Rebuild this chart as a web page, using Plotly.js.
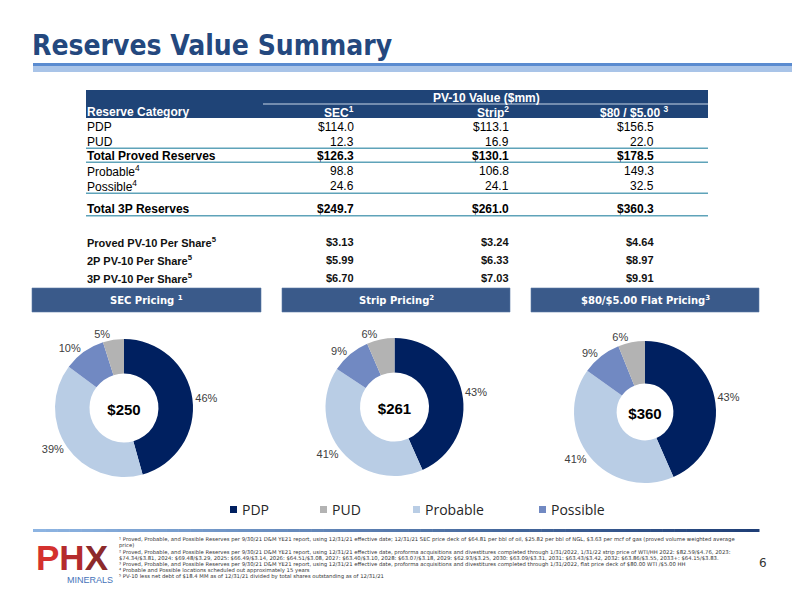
<!DOCTYPE html>
<html><head><meta charset="utf-8">
<script src="https://cdn.plot.ly/plotly-3.0.1.min.js"></script>
<style>html,body{margin:0;padding:0;background:#fff}#chart{width:792px;height:594px}</style>
</head><body><div id="chart"></div>
<script>
// ---------------- DATA ----------------
const categories = ['PDP', 'PUD', 'Probable', 'Possible'];
const secValues = [114.0, 12.3, 98.8, 24.6];
const stripValues = [113.1, 16.9, 106.8, 24.1];
const flatValues = [156.5, 22.0, 149.3, 32.5];
const secPctLabels = ['46%', '5%', '39%', '10%'];
const stripPctLabels = ['43%', '6%', '41%', '9%'];
const flatPctLabels = ['43%', '6%', '41%', '9%'];
const pieTotals = [249.7, 261.0, 360.3];
const pricingTitles = ['SEC Pricing <sup>1</sup>', 'Strip Pricing<sup>2</sup>', '$80/$5.00 Flat Pricing<sup>3</sup>'];

const tableGroupHeader = 'PV-10 Value ($mm)';
const tableFirstHeader = 'Reserve Category';
const columnHeaders = ['SEC<sup>1</sup>', 'Strip<sup>2</sup>', '$80 / $5.00 <sup>3</sup>'];
const tableRowLabels = ['PDP', 'PUD', 'Total Proved Reserves', 'Probable<sup>4</sup>', 'Possible<sup>4</sup>', 'Total 3P Reserves'];
const secColumn = [114.0, 12.3, 126.3, 98.8, 24.6, 249.7];
const stripColumn = [113.1, 16.9, 130.1, 106.8, 24.1, 261.0];
const flatColumn = [156.5, 22.0, 178.5, 149.3, 32.5, 360.3];
const rowIsTotal = [false, false, true, false, false, true];
const rowHasDollar = [true, false, true, false, false, true];

const perShareLabels = ['Proved PV-10 Per Share<sup>5</sup>', '2P PV-10 Per Share<sup>5</sup>', '3P PV-10 Per Share<sup>5</sup>'];
const secPerShare = [3.13, 5.99, 6.70];
const stripPerShare = [3.24, 6.33, 7.03];
const flatPerShare = [4.64, 8.97, 9.91];

const footnotes = [
  '¹ Proved, Probable, and Possible Reserves per 9/30/21 D&amp;M YE21 report, using 12/31/21 effective date; 12/31/21 SEC price deck of $64.81 per bbl of oil, $25.82 per bbl of NGL, $3.63 per mcf of gas (proved volume weighted average',
  'price)',
  '² Proved, Probable, and Possible Reserves per 9/30/21 D&amp;M YE21 report, using 12/31/21 effective date, proforma acquisitions and divestitures completed through 1/31/2022, 1/31/22 strip price of WTI/HH 2022: $82.59/$4.76, 2023:',
  '$74.34/$3.81, 2024: $69.48/$3.29, 2025: $66.49/$3.14, 2026: $64.51/$3.08, 2027: $63.40/$3.10, 2028: $63.07/$3.18, 2029: $62.93/$3.25, 2030: $63.09/$3.31, 2031: $63.43/$3.42, 2032: $63.86/$3.55, 2033+: $64.15/$3.83.',
  '³ Proved, Probable, and Possible Reserves per 9/30/21 D&amp;M YE21 report, using 12/31/21 effective date, proforma acquisitions and divestitures completed through 1/31/2022, flat price deck of $80.00 WTI /$5.00 HH',
  '⁴ Probable and Possible locations scheduled out approximately 15 years',
  '⁵ PV-10 less net debt of $18.4 MM as of 12/31/21 divided by total shares outstanding as of 12/31/21'
];
const pageTitle = 'Reserves Value Summary';
const pageNumber = '6';

// ---------------- STYLE / LAYOUT ----------------
const W = 792, H = 594;
const X = p => p / W;
const Y = p => 1 - p / H;
const sliceColors = {PDP: '#002060', PUD: '#B3B3B3', Probable: '#B9CDE5', Possible: '#7189C2'};
const sliceOrder = [0, 2, 3, 1]; // clockwise from 12 o'clock: PDP, Probable, Possible, PUD
const NAVY = '#1F4477';
const LINE = '#5FA3B9';
const ARIAL = 'Liberation Sans, Arial, sans-serif';
const VERD = 'DejaVu Sans, Verdana, sans-serif';

const pies = [
  {vals: secValues, pct: secPctLabels, box: [55, 193, 339, 477], hole: 0.5},
  {vals: stripValues, pct: stripPctLabels, box: [325.5, 463.5, 338, 476], hole: 0.5},
  {vals: flatValues, pct: flatPctLabels, box: [574, 716, 341, 483], hole: 0.4}
];

const traces = pies.map((p, i) => ({
  type: 'pie',
  labels: sliceOrder.map(k => categories[k]),
  values: sliceOrder.map(k => p.vals[k]),
  text: sliceOrder.map(k => p.pct[k]),
  textinfo: 'text',
  textposition: 'outside',
  textfont: {family: ARIAL, size: 11, color: '#404040'},
  marker: {colors: sliceOrder.map(k => sliceColors[categories[k]]), line: {width: 0}},
  hole: p.hole,
  sort: false,
  direction: 'clockwise',
  rotation: 0,
  hoverinfo: 'none',
  showlegend: false,
  title: {text: '<b>$' + Math.round(pieTotals[i]) + '</b>', position: 'middle center', font: {family: ARIAL, size: 15, color: '#000'}},
  domain: {x: [X(p.box[0]), X(p.box[1])], y: [Y(p.box[3]), Y(p.box[2])]}
}));

const shapes = [];
const annotations = [];
function rect(x0, y0, x1, y1, fill, extra) {
  shapes.push(Object.assign({type: 'rect', xref: 'paper', yref: 'paper', x0: X(x0), x1: X(x1), y0: Y(y1), y1: Y(y0), fillcolor: fill, line: {width: 0}, layer: 'above'}, extra || {}));
}
function hline(x0, x1, y, color, w) {
  shapes.push({type: 'line', xref: 'paper', yref: 'paper', x0: X(x0), x1: X(x1), y0: Y(y), y1: Y(y), line: {color: color, width: w}});
}
function text(t, x, y, anchor, font) {
  annotations.push({text: t, x: X(x), y: Y(y), xref: 'paper', yref: 'paper', xanchor: anchor, yanchor: 'middle', showarrow: false, align: anchor === 'right' ? 'right' : (anchor === 'center' ? 'center' : 'left'), font: font, borderpad: 0});
}

// Title + bar
text('<b>' + pageTitle + '</b>', 31, 45, 'left', {family: 'DejaVu Sans Condensed, DejaVu Sans', size: 28, color: '#24487E'});
rect(33, 63, 792, 66.5, '#5A8BD0');
rect(33, 66.5, 792, 72, '#A9C4E8');

// Table header
rect(86, 90, 708, 118, NAVY);
hline(263, 708, 104, '#C9D6E8', 1);
text('<b>' + tableGroupHeader + '</b>', 486, 97.5, 'center', {family: ARIAL, size: 12, color: '#fff'});
text('<b>' + tableFirstHeader + '</b>', 86, 111.5, 'left', {family: ARIAL, size: 12, color: '#fff'});
const colRight = [355, 510, 669];
const valRight = [355, 510, 655];
columnHeaders.forEach((h, i) => text('<b>' + h + '</b>', colRight[i], 111.5, 'right', {family: ARIAL, size: 12, color: '#fff'}));

const rowY = [127, 142, 156.5, 171, 186, 209];
const cols = [secColumn, stripColumn, flatColumn];
tableRowLabels.forEach((lab, r) => {
  const b = s => rowIsTotal[r] ? '<b>' + s + '</b>' : s;
  text(b(lab), 86, rowY[r], 'left', {family: ARIAL, size: 12, color: '#000'});
  cols.forEach((c, ci) => {
    const s = (rowHasDollar[r] ? '$' : '') + c[r].toFixed(1);
    text(b(s), valRight[ci], rowY[r], 'right', {family: ARIAL, size: 12, color: '#000'});
  });
});
[148.3, 162.3, 193.3, 215.7].forEach(y => hline(86, 708, y, LINE, 1.5));

const psY = [242, 260, 278];
const psCols = [secPerShare, stripPerShare, flatPerShare];
perShareLabels.forEach((lab, r) => {
  text('<b>' + lab + '</b>', 86, psY[r], 'left', {family: ARIAL, size: 11, color: '#111'});
  psCols.forEach((c, ci) => text('<b>$' + c[r].toFixed(2) + '</b>', valRight[ci], psY[r], 'right', {family: ARIAL, size: 11, color: '#111'}));
});

// Pricing boxes
const boxes = [[32, 261], [282, 510], [531, 759]];
boxes.forEach((bx, i) => {
  rect(bx[0], 288, bx[1], 312, '#3A5A8A', {line: {color: '#5C79A6', width: 0.6}});
  text('<b>' + pricingTitles[i] + '</b>', (bx[0] + bx[1]) / 2, 299.5, 'center', {family: VERD, size: 10, color: '#fff'});
});

// Legend
const legX = [230, 320, 413, 539];
categories.forEach((c, i) => {
  rect(legX[i], 506, legX[i] + 7, 513, sliceColors[c]);
  text(c, legX[i] + 11, 509.5, 'left', {family: 'Open Sans, Noto Sans, sans-serif', size: 14, color: '#262626'});
});

// Footer gradient line
const segs = 60, fx0 = 33, fx1 = 759;
const c0 = [141, 180, 226], c1 = [31, 63, 119];
for (let s = 0; s < segs; s++) {
  const t = s / (segs - 1);
  const col = 'rgb(' + c0.map((v, k) => Math.round(v + (c1[k] - v) * t)).join(',') + ')';
  rect(fx0 + (fx1 - fx0) * s / segs, 529, fx0 + (fx1 - fx0) * (s + 1) / segs + 0.5, 532, col);
}

// Footnotes
const fnY = [539, 545.5, 552, 558, 564, 570, 576];
footnotes.forEach((f, i) => text(f, 118, fnY[i], 'left', {family: VERD, size: 5.3, color: '#333'}));
text(pageNumber, 763, 563, 'center', {family: VERD, size: 12, color: '#333'});

// Logo
text('<b><span style="color:#D4312E">P</span><span style="color:#B42B2D">H</span><span style="color:#8C2A2B">X</span></b>', 72, 557, 'center', {family: ARIAL, size: 35, color: '#B42B2D'});
text('MINERALS', 90, 580, 'center', {family: ARIAL, size: 9, color: '#4573B9'});

const layout = {
  width: W, height: H,
  margin: {l: 0, r: 0, t: 0, b: 0},
  paper_bgcolor: '#fff', plot_bgcolor: '#fff',
  showlegend: false,
  shapes: shapes,
  annotations: annotations
};
Plotly.newPlot('chart', traces, layout, {displayModeBar: false, staticPlot: true});
</script>
</body></html>
